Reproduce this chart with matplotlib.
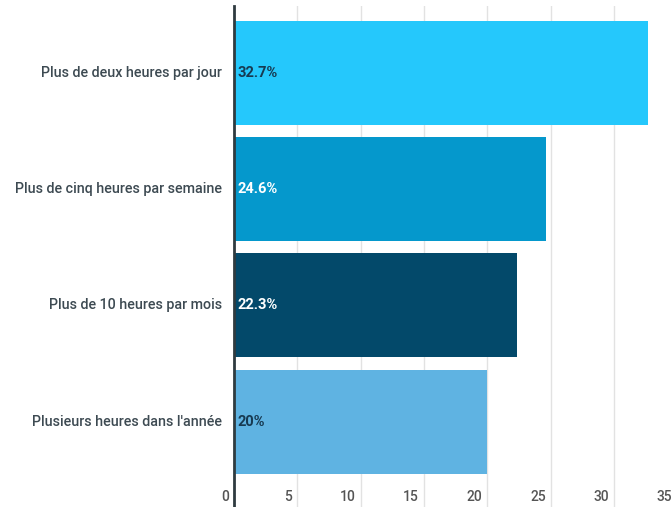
import matplotlib.pyplot as plt
from matplotlib import transforms

plt.rcParams["font.family"] = ["Roboto", "DejaVu Sans"]

categories = [
    "Plus de deux heures par jour",
    "Plus de cinq heures par semaine",
    "Plus de 10 heures par mois",
    "Plusieurs heures dans l'année",
]
values = [32.7, 24.6, 22.3, 20.0]
value_labels = ["32.7%", "24.6%", "22.3%", "20%"]
x_ticks = [0, 5, 10, 15, 20, 25, 30, 35]

bar_colors = ["#25c8fc", "#0598cc", "#03496a", "#5fb3e2"]
label_colors = ["#173a52", "#ffffff", "#ffffff", "#173a52"]

fig = plt.figure(figsize=(6.71, 5.07), dpi=100)
# right edge sits past the figure so the 35 gridline falls just outside
ax = fig.add_axes([234 / 671, 0.0, (677.5 - 234) / 671, (507 - 6) / 507])

ypos = list(range(len(categories)))
ax.barh(ypos, values, height=0.894, color=bar_colors, zorder=2)

ax.set_xlim(0, 35)
ax.set_ylim((507 - 72.7) / 116.3, -(72.7 - 6) / 116.3)

ax.set_xticks(x_ticks)
ax.grid(axis="x", color="#e2e2e2", linewidth=1, zorder=0)
ax.tick_params(axis="x", length=0, labelbottom=False)
ax.set_yticks([])
for s in ["top", "right", "bottom"]:
    ax.spines[s].set_visible(False)
ax.spines["left"].set_color("#2f3b40")
ax.spines["left"].set_linewidth(2)
ax.spines["left"].set_zorder(3)

# x tick labels sit inside the plot, just left of each gridline
tick_tr = transforms.offset_copy(
    transforms.blended_transform_factory(ax.transData, ax.transAxes),
    fig=fig, x=-5, y=0, units="dots")
for t in x_ticks:
    ax.text(t, 10 / 501, str(t), transform=tick_tr, ha="right", va="center",
            fontsize=10, fontweight="medium", color="#555555")

# category names left of the axis
cat_tr = transforms.offset_copy(ax.transData, fig=fig, x=-12, y=0, units="dots")
for y, name in zip(ypos, categories):
    ax.text(0, y, name, transform=cat_tr, ha="right", va="center",
            fontsize=10.3, fontweight="medium", color="#3d4a52")

# value labels at the base of each bar
val_tr = transforms.offset_copy(ax.transData, fig=fig, x=4, y=0, units="dots")
for y, lab, c in zip(ypos, value_labels, label_colors):
    ax.text(0, y, lab, transform=val_tr, ha="left", va="center",
            fontsize=10.5, fontweight="bold", color=c, zorder=4)

fig.savefig("out.png", dpi=100)
